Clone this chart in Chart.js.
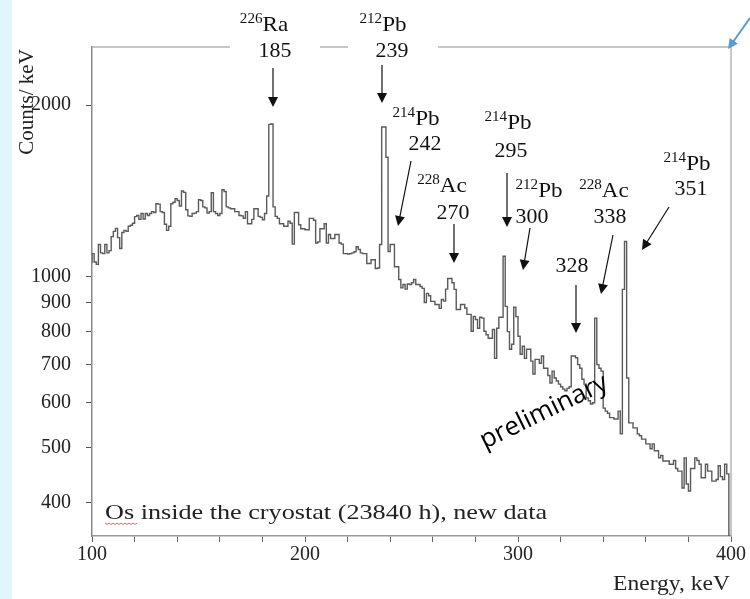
<!DOCTYPE html>
<html>
<head>
<meta charset="utf-8">
<script src="https://cdn.jsdelivr.net/npm/chart.js@4.4.1/dist/chart.umd.min.js"></script>
<style>
  html, body { margin: 0; padding: 0; background: #fff; }
  canvas { display: block; }
</style>
</head>
<body>
<canvas id="spectrum" width="750" height="599"></canvas>
<script>
// energy of the first 1 keV bin
const binStart = 100;
const binWidth = 1;

// counts per keV, one value per 1 keV bin (100 ... 399 keV)
const counts = [
  1055, 1097, 1060, 1050, 1138, 1100, 1097, 1138, 1100, 1110,
  1175, 1200, 1215, 1170, 1120, 1195, 1205, 1200, 1225, 1230,
  1240, 1274, 1280, 1260, 1290, 1262, 1290, 1280, 1290, 1300,
  1295, 1342, 1340, 1300, 1295, 1235, 1205, 1225, 1342, 1350,
  1370, 1360, 1330, 1413, 1405, 1310, 1278, 1275, 1290, 1292,
  1300, 1364, 1360, 1325, 1320, 1292, 1300, 1403, 1300, 1290,
  1280, 1290, 1420, 1410, 1325, 1320, 1315, 1315, 1300, 1300,
  1280, 1278, 1265, 1300, 1238, 1238, 1260, 1315, 1315, 1275,
  1270, 1258, 1290, 1385, 1850, 1853, 1325, 1275, 1265, 1238,
  1238, 1225, 1225, 1250, 1240, 1140, 1295, 1295, 1233, 1213,
  1213, 1208, 1208, 1265, 1265, 1255, 1145, 1150, 1213, 1213,
  1238, 1145, 1185, 1166, 1166, 1185, 1185, 1145, 1140, 1097,
  1097, 1095, 1097, 1100, 1105, 1128, 1115, 1100, 1097, 1097,
  1054, 1054, 1070, 1070, 1033, 1035, 1138, 1830, 1830, 1620,
  1106, 1138, 1138, 1040, 1040, 988, 955, 968, 950, 970,
  968, 975, 988, 968, 968, 960, 953, 900, 934, 925,
  904, 904, 893, 893, 879, 911, 905, 950, 992, 992,
  975, 949, 875, 875, 893, 893, 880, 858, 858, 801,
  851, 840, 811, 848, 845, 801, 790, 779, 779, 807,
  718, 811, 848, 848, 1085, 886, 800, 745, 760, 883,
  850, 785, 730, 754, 718, 745, 745, 710, 674, 715,
  715, 704, 725, 690, 690, 670, 650, 682, 663, 655,
  647, 640, 634, 630, 636, 640, 725, 725, 720, 700,
  690, 660, 647, 612, 605, 597, 600, 845, 700, 690,
  682, 587, 580, 575, 565, 565, 562, 562, 580, 529,
  949, 1152, 663, 553, 553, 542, 542, 529, 525, 518,
  518, 508, 508, 498, 508, 494, 494, 480, 485, 474,
  474, 474, 468, 468, 475, 460, 455, 455, 425, 480,
  432, 420, 460, 460, 480, 475, 468, 443, 443, 468,
  455, 455, 437, 437, 440, 465, 445, 440, 468, 450
];

// axis ticks
const yTickValues = [400, 500, 600, 700, 800, 900, 1000, 2000];
const xTickLabels = [100, 200, 300, 400];
const xMinorStep = 20;

const yMin = 350;
const yMax = 2530;

// peak annotations (layout in pixels)
const peakNotes = [
  { iso: "226", el: "Ra", lx: 264, ly: 24, num: "185", nx: 275, ny: 50, arrow: [273, 68, 273, 107] },
  { iso: "212", el: "Pb", lx: 383, ly: 24, num: "239", nx: 392, ny: 50, arrow: [382, 65, 382, 103] },
  { iso: "214", el: "Pb", lx: 416, ly: 118, num: "242", nx: 425, ny: 143, arrow: [411, 161, 398, 226] },
  { iso: "214", el: "Pb", lx: 508, ly: 122, num: "295", nx: 511, ny: 150, arrow: [507, 173, 507, 227] },
  { iso: "228", el: "Ac", lx: 442, ly: 185, num: "270", nx: 453, ny: 212, arrow: [454, 224, 454, 263] },
  { iso: "212", el: "Pb", lx: 539, ly: 190, num: "300", nx: 532, ny: 216, arrow: [530, 228, 523, 270] },
  { iso: "228", el: "Ac", lx: 604, ly: 190, num: "338", nx: 610, ny: 216, arrow: [613, 235, 601, 294] },
  { num: "328", nx: 572, ny: 265, arrow: [576, 285, 576, 333] },
  { iso: "214", el: "Pb", lx: 687, ly: 163, num: "351", nx: 691, ny: 188, arrow: [669, 207, 642, 250] }
];

const serif = "'Liberation Serif', 'Times New Roman', serif";

// step histogram points: left edge of every bin, then drop at the end
const points = counts.map((v, i) => ({ x: binStart + i * binWidth, y: v }));
points.push({ x: binStart + counts.length * binWidth, y: yMin });

const xTicks = [];
for (let v = xTickLabels[0]; v <= xTickLabels[xTickLabels.length - 1]; v += xMinorStep) xTicks.push(v);

function arrow(ctx, x1, y1, x2, y2) {
  const ang = Math.atan2(y2 - y1, x2 - x1);
  const len = 10, half = 5;
  ctx.beginPath();
  ctx.moveTo(x1, y1);
  ctx.lineTo(x2 - Math.cos(ang) * len * 0.8, y2 - Math.sin(ang) * len * 0.8);
  ctx.stroke();
  ctx.beginPath();
  ctx.moveTo(x2, y2);
  ctx.lineTo(x2 - Math.cos(ang) * len - Math.sin(ang) * half, y2 - Math.sin(ang) * len + Math.cos(ang) * half);
  ctx.lineTo(x2 - Math.cos(ang) * len + Math.sin(ang) * half, y2 - Math.sin(ang) * len - Math.cos(ang) * half);
  ctx.closePath();
  ctx.fill();
}

// serif text, stretched a little to look like the wide Garamond of the original
function wideText(ctx, text, x, y, size, stretch, align) {
  ctx.save();
  ctx.font = size + "px " + serif;
  const w = ctx.measureText(text).width * stretch;
  let x0 = x;
  if (align === "center") x0 = x - w / 2;
  if (align === "right") x0 = x - w;
  ctx.translate(x0, y);
  ctx.scale(stretch, 1);
  ctx.textAlign = "left";
  ctx.fillText(text, 0, 0);
  ctx.restore();
  return w;
}

const decor = {
  id: "decor",
  beforeDraw(chart) {
    const ctx = chart.ctx;
    ctx.save();
    ctx.fillStyle = "#dff6fb";
    ctx.fillRect(0, 0, 12, chart.height);
    ctx.restore();
  },
  afterDraw(chart) {
    const ctx = chart.ctx;
    const a = chart.chartArea;
    ctx.save();

    // frame: top (broken behind the labels) and right side
    ctx.strokeStyle = "#b5b5b5";
    ctx.lineWidth = 1.5;
    ctx.beginPath();
    ctx.moveTo(a.left, a.top); ctx.lineTo(230, a.top);
    ctx.moveTo(320, a.top); ctx.lineTo(348, a.top);
    ctx.moveTo(438, a.top); ctx.lineTo(a.right, a.top);
    ctx.moveTo(a.right, a.top); ctx.lineTo(a.right, a.bottom);
    ctx.stroke();

    // peak labels
    ctx.fillStyle = "#111";
    ctx.strokeStyle = "#111";
    ctx.lineWidth = 1.2;
    ctx.textBaseline = "alphabetic";
    peakNotes.forEach(p => {
      if (p.iso) {
        ctx.font = "14px " + serif;
        const wIso = ctx.measureText(p.iso).width * 1.08;
        ctx.font = "21px " + serif;
        const wEl = ctx.measureText(p.el).width * 1.1;
        const x0 = p.lx - (wIso + wEl) / 2;
        wideText(ctx, p.iso, x0, p.ly - 1, 14, 1.08, "left");
        wideText(ctx, p.el, x0 + wIso, p.ly + 7, 21, 1.1, "left");
      }
      wideText(ctx, p.num, p.nx, p.ny + 7, 21, 1.04, "center");
      arrow(ctx, ...p.arrow);
    });

    // axis titles
    ctx.fillStyle = "#222";
    wideText(ctx, "Energy, keV", 730, 590, 21, 1.12, "right");
    ctx.save();
    ctx.translate(33, 102);
    ctx.rotate(-Math.PI / 2);
    wideText(ctx, "Counts/ keV", 0, 0, 21, 1.0, "center");
    ctx.restore();

    // caption
    const capW = wideText(ctx, "Os inside the cryostat (23840 h), new data", 105, 519, 22, 1.19, "left");
    ctx.strokeStyle = "#e23b3b";
    ctx.lineWidth = 0.8;
    ctx.beginPath();
    for (let x = 105; x <= 137; x += 2) {
      const y = 523 + ((x - 105) / 2 % 2 === 0 ? 0 : 1.5);
      if (x === 105) ctx.moveTo(x, y); else ctx.lineTo(x, y);
    }
    ctx.stroke();

    // preliminary stamp
    ctx.save();
    ctx.translate(544, 412);
    ctx.rotate(-26 * Math.PI / 180);
    ctx.fillStyle = "#000";
    ctx.font = "26px 'Open Sans', Lato, sans-serif";
    ctx.textAlign = "center";
    ctx.textBaseline = "middle";
    ctx.fillText("preliminary", 0, 0);
    ctx.restore();

    // blue pointer in the top right corner
    ctx.strokeStyle = "#5b9bd5";
    ctx.fillStyle = "#5b9bd5";
    ctx.lineWidth = 2;
    arrow(ctx, 750, 18, 728, 49);

    ctx.restore();
  }
};

new Chart(document.getElementById("spectrum"), {
  type: "line",
  data: {
    datasets: [
      {
        data: points,
        stepped: "after",
        borderColor: "#5a5a5a",
        borderWidth: 1.4,
        pointRadius: 0,
        fill: false,
        tension: 0
      }
    ]
  },
  options: {
    responsive: false,
    animation: false,
    devicePixelRatio: 1,
    layout: { padding: { top: 47, right: 19, left: 0, bottom: 0 } },
    plugins: { legend: { display: false }, tooltip: { enabled: false } },
    scales: {
      x: {
        type: "linear",
        min: xTickLabels[0],
        max: xTickLabels[xTickLabels.length - 1],
        afterFit: s => { s.height = 63; },
        afterBuildTicks: s => { s.ticks = xTicks.map(v => ({ value: v })); },
        ticks: {
          autoSkip: false,
          maxRotation: 0,
          padding: 1,
          color: "#222",
          font: { family: serif, size: 20 },
          callback: v => (xTickLabels.includes(v) ? String(v) : "")
        },
        grid: { drawOnChartArea: false, drawTicks: true, tickLength: 6, color: "#666" },
        border: { color: "#9a9a9a", width: 1.5 }
      },
      y: {
        type: "logarithmic",
        min: yMin,
        max: yMax,
        afterFit: s => { s.width = 92; },
        afterBuildTicks: s => { s.ticks = yTickValues.map(v => ({ value: v })); },
        ticks: {
          autoSkip: false,
          padding: 15,
          color: "#222",
          font: { family: serif, size: 20 },
          callback: v => String(v)
        },
        grid: { drawOnChartArea: false, drawTicks: true, tickLength: 6, color: "#555" },
        border: { color: "#8a8a8a", width: 1.5 }
      }
    }
  },
  plugins: [decor]
});
</script>
</body>
</html>
